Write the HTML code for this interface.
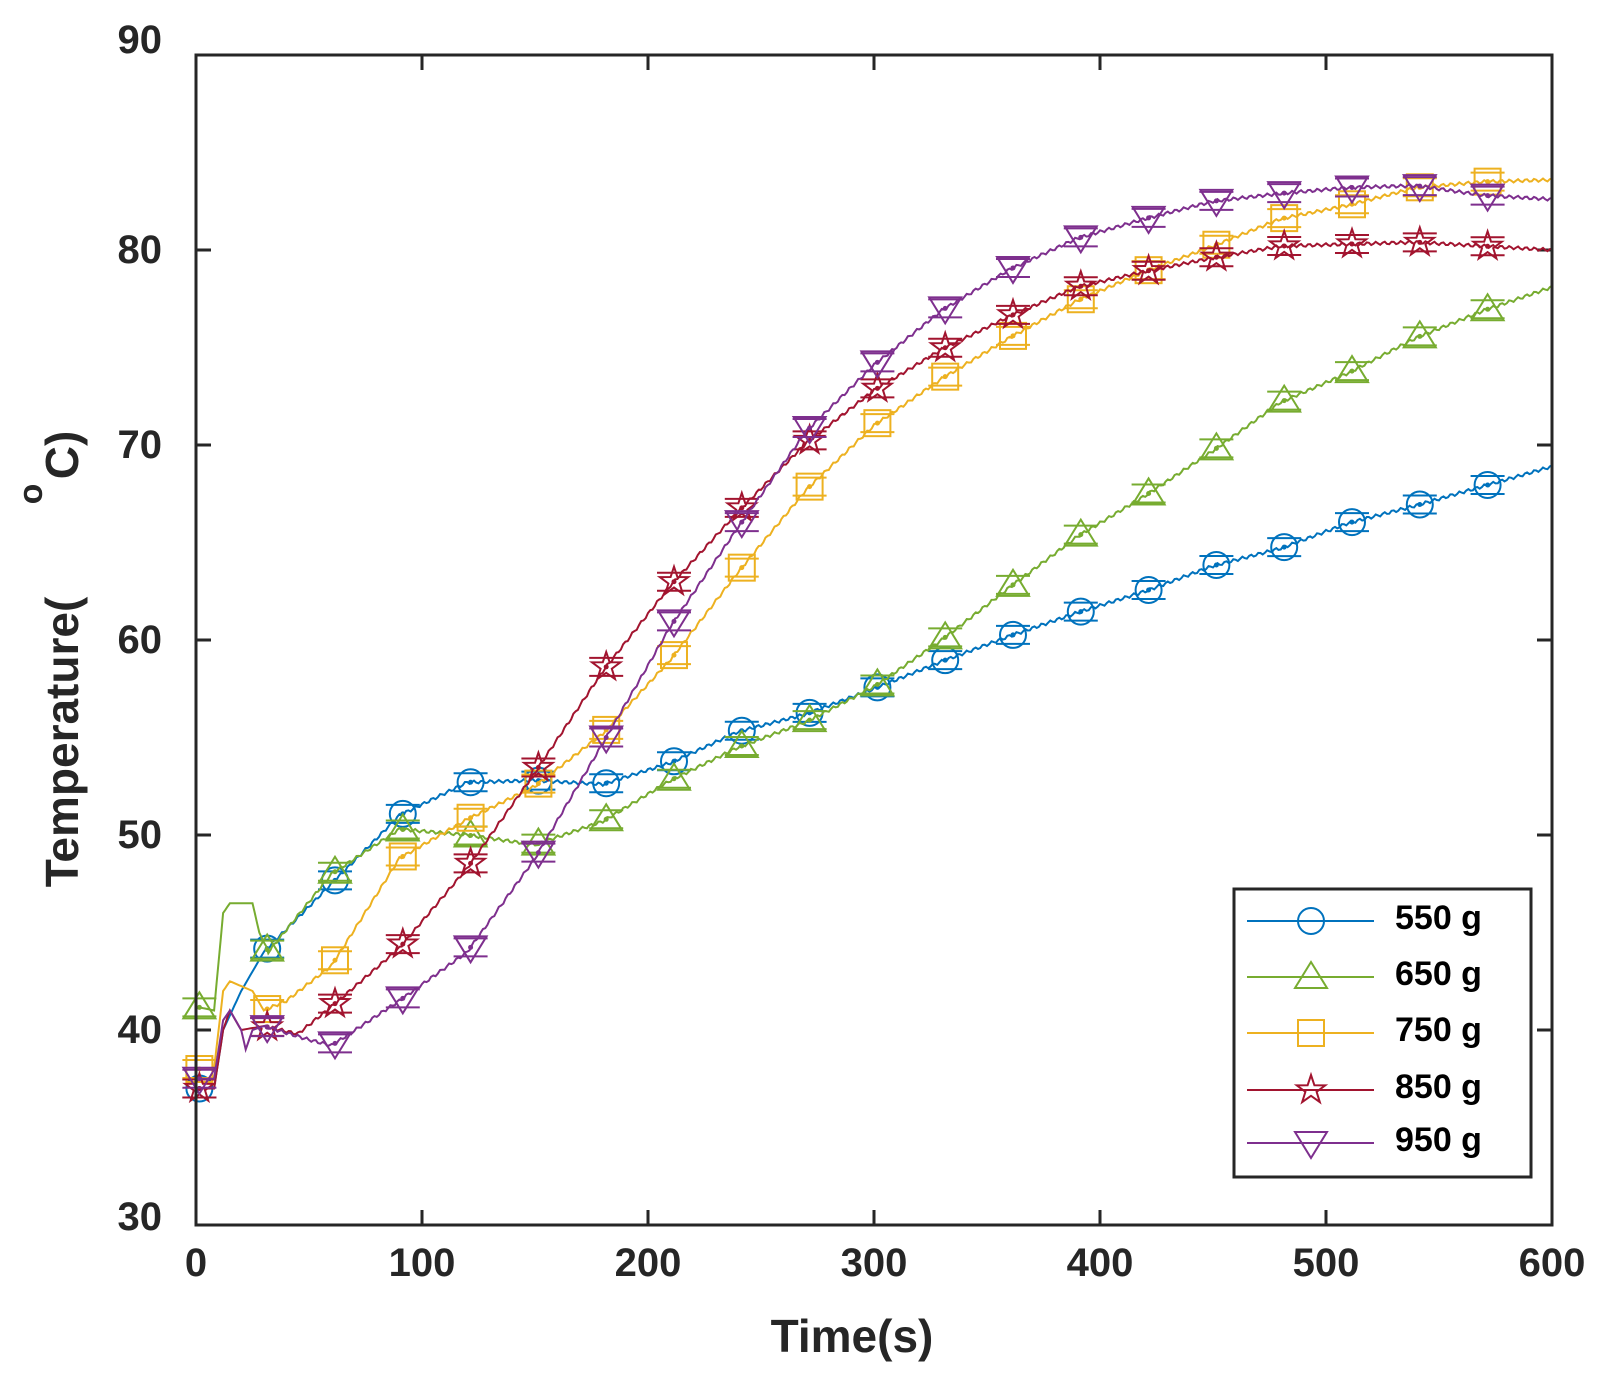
<!DOCTYPE html>
<html><head><meta charset="utf-8"><style>body{margin:0;background:#fff}svg{display:block}</style></head>
<body>
<svg id="s" width="1602" height="1380" xmlns="http://www.w3.org/2000/svg" font-family="Liberation Sans, Arial, sans-serif" font-weight="bold"></svg>
<script>
const L=196,R=1552,T=55,B=1225;
const X=t=>L+t*(R-L)/600, Y=v=>B-(v-30)*(B-T)/60;
let h='';
for(let i=0;i<=6;i++){const x=X(i*100);h+=`<line x1="${x}" y1="${B}" x2="${x}" y2="${B-15}" stroke="#262626" stroke-width="3"/><line x1="${x}" y1="${T}" x2="${x}" y2="${T+15}" stroke="#262626" stroke-width="3"/><text x="${x}" y="${B+51}" font-size="40" text-anchor="middle" fill="#262626">${i*100}</text>`;}
for(let i=0;i<=6;i++){const v=30+i*10,y=Y(v);h+=`<line x1="${L}" y1="${y}" x2="${L+15}" y2="${y}" stroke="#262626" stroke-width="3"/><line x1="${R}" y1="${y}" x2="${R-15}" y2="${y}" stroke="#262626" stroke-width="3"/><text x="162" y="${y+(i==6?-2:13)+(i==0?-8:0)}" font-size="40" text-anchor="end" fill="#262626">${v}</text>`;}
h+=`<text x="852" y="1352" font-size="46" text-anchor="middle" fill="#262626">Time(s)</text>`;
h+=`<text transform="translate(78,742) rotate(-90)" font-size="46" text-anchor="middle" fill="#262626">Temperature(</text>`;
h+=`<text transform="translate(78,455) rotate(-90)" font-size="46" text-anchor="middle" fill="#262626">C)</text>`;
h+=`<text transform="translate(42,494) rotate(-90)" font-size="34" text-anchor="middle" fill="#262626">o</text>`;
const S=[
['#0072BD','o',[[0,37],[8,37],[12,40],[20,42],[30,44],[60,47.5],[90,51],[120,52.7],[150,52.8],[180,52.6],[210,53.7],[240,55.3],[270,56.2],[300,57.5],[330,58.9],[360,60.2],[390,61.4],[420,62.5],[450,63.8],[480,64.7],[510,66],[540,66.9],[570,67.9],[600,68.9]]],
['#77AC30','^',[[0,41.2],[8,41],[12,46],[15,46.5],[25,46.5],[28,45],[32,44],[60,48],[90,50.3],[120,50],[150,49.5],[180,50.7],[210,52.8],[240,54.5],[270,55.8],[300,57.6],[330,60],[360,62.7],[390,65.3],[420,67.4],[450,69.7],[480,72.2],[510,73.7],[540,75.5],[570,76.9],[600,78.1]]],
['#EDB120','s',[[0,38],[8,38],[12,42],[15,42.5],[25,42],[30,41],[40,41.5],[60,43.3],[90,48.8],[120,50.8],[150,52.5],[180,55.2],[210,59],[240,63.5],[270,67.7],[300,71],[330,73.4],[360,75.5],[390,77.4],[420,78.9],[450,80.2],[480,81.6],[510,82.3],[540,83.2],[570,83.5],[600,83.6]]],
['#A2142F','p',[[0,37],[8,37],[12,40],[15,41],[20,40],[30,40.2],[45,39.8],[60,41.2],[90,44.2],[120,48.3],[150,53.2],[180,58.4],[210,62.8],[240,66.6],[270,70.1],[300,72.8],[330,74.9],[360,76.6],[390,78.1],[420,78.9],[450,79.6],[480,80.2],[510,80.3],[540,80.4],[570,80.2],[600,80]]],
['#7E2F8E','v',[[0,37.5],[8,37.5],[12,40.5],[15,41],[20,40],[22,39],[25,40],[30,40.2],[50,39.5],[60,39.2],[90,41.5],[120,44],[150,48.8],[180,54.7],[210,60.7],[240,65.8],[270,70.7],[300,74.1],[330,76.9],[360,79],[390,80.6],[420,81.6],[450,82.5],[480,82.9],[510,83.2],[540,83.3],[570,82.8],[600,82.6]]]];
function interp(d,t){for(let i=1;i<d.length;i++)if(t<=d[i][0]){const a=d[i-1],b=d[i];return a[1]+(b[1]-a[1])*(t-a[0])/(b[0]-a[0]);}return d[d.length-1][1];}
function mk(type,x,y,c,r){r=r||13;
 if(type=='o')return `<circle cx="${x}" cy="${y}" r="${r}" fill="none" stroke="${c}" stroke-width="2"/>`;
 if(type=='s')return `<rect x="${x-r}" y="${y-r}" width="${2*r}" height="${2*r}" fill="none" stroke="${c}" stroke-width="2"/>`;
 if(type=='^')return `<polygon points="${x},${y-r-2} ${x-r-3},${y+r-2} ${x+r+3},${y+r-2}" fill="none" stroke="${c}" stroke-width="2"/>`;
 if(type=='v')return `<polygon points="${x},${y+r+2} ${x-r-3},${y-r+2} ${x+r+3},${y-r+2}" fill="none" stroke="${c}" stroke-width="2"/>`;
 let p=[];for(let k=0;k<10;k++){const a=-Math.PI/2+k*Math.PI/5,rr=k%2?r*0.45:r*1.15;p.push((x+rr*Math.cos(a)).toFixed(1)+','+(y+rr*Math.sin(a)).toFixed(1));}
 return `<polygon points="${p.join(' ')}" fill="none" stroke="${c}" stroke-width="2"/>`;}
for(const [c,m,d] of S){
 let pts=[];for(let t=0;t<=600;t+=1){const v=interp(d,t)+(t>30?Math.sin(t*1.7)*0.08:0);pts.push(X(t).toFixed(1)+','+Y(v).toFixed(1));}
 h+=`<polyline points="${pts.join(' ')}" fill="none" stroke="${c}" stroke-width="2"/>`;
 for(let t=1.5;t<600;t+=30){const x=X(t),y=Y(interp(d,t));
  h+=mk(m,x,y,c);
  h+=`<line x1="${x-17}" y1="${y-9}" x2="${x+17}" y2="${y-9}" stroke="${c}" stroke-width="2"/><line x1="${x-17}" y1="${y+9}" x2="${x+17}" y2="${y+9}" stroke="${c}" stroke-width="2"/><circle cx="${x}" cy="${y}" r="2.5" fill="${c}"/>`;}
}
h+=`<rect x="${L}" y="${T}" width="${R-L}" height="${B-T}" fill="none" stroke="#262626" stroke-width="3"/>`;
h+=`<rect x="1234" y="889" width="297" height="288" fill="#fff" stroke="#262626" stroke-width="3"/>`;
const labs=['550 g','650 g','750 g','850 g','950 g'],ys=[921,977,1033,1090,1143];
S.forEach((s,i)=>{h+=`<line x1="1247" y1="${ys[i]}" x2="1374" y2="${ys[i]}" stroke="${s[0]}" stroke-width="2"/>`+mk(s[1],1311,ys[i],s[0],13)+`<text x="1395" y="${ys[i]+8}" font-size="34" fill="#000">${labs[i]}</text>`;});
document.getElementById('s').innerHTML=h;
</script>
</body></html>
